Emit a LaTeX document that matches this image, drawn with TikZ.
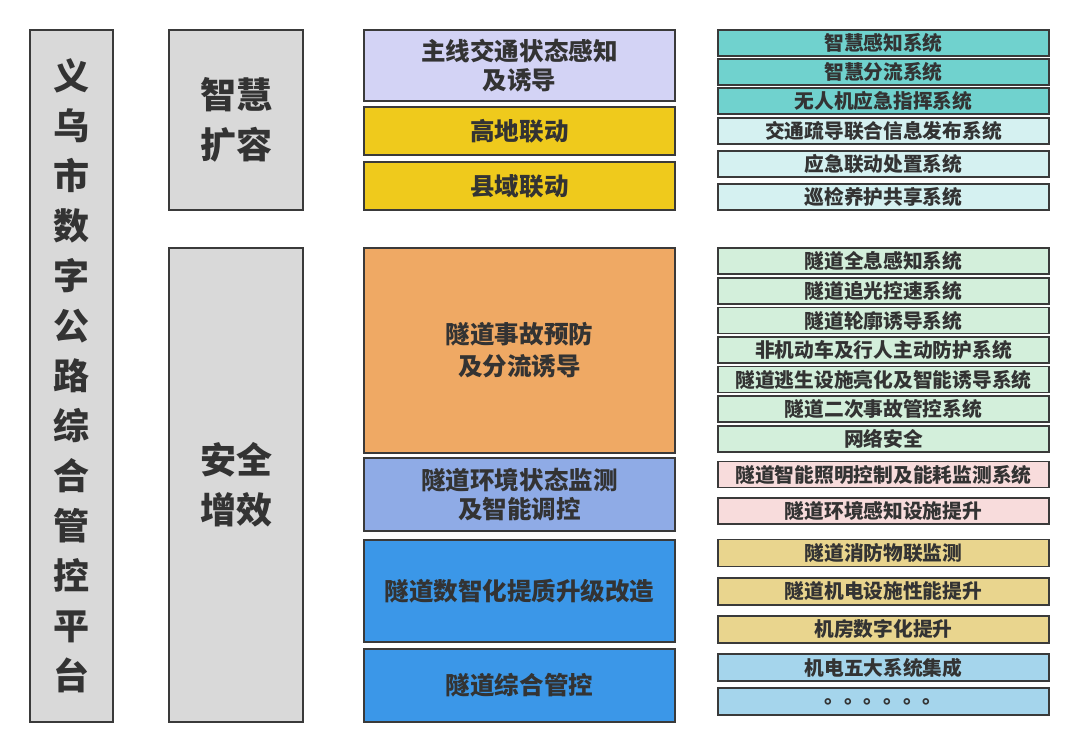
\documentclass[tikz,border=0pt]{standalone}
\usepackage{fontspec}
\setmainfont{Noto Sans CJK SC}
\usepackage{tikz}
\usetikzlibrary{positioning}
\usepackage{xcolor}
\definecolor{ywline}{HTML}{3A3A3A}
\definecolor{ywtext}{HTML}{333333}
\definecolor{ywgray}{HTML}{D9D9D9}
\definecolor{ywlav}{HTML}{D3D3F5}
\definecolor{ywgold}{HTML}{EFCA1C}
\definecolor{yworange}{HTML}{EFA964}
\definecolor{ywsteel}{HTML}{8FABE6}
\definecolor{ywblue}{HTML}{3B97E8}
\definecolor{ywteal}{HTML}{70D2CE}
\definecolor{ywcyan}{HTML}{D5F1F1}
\definecolor{ywgreen}{HTML}{D3EFDB}
\definecolor{ywpink}{HTML}{F8DCDC}
\definecolor{ywtan}{HTML}{E9D58E}
\definecolor{ywsky}{HTML}{A5D5EC}
\tikzset{
  ywbase/.style={draw=ywline, line width=1.2pt, inner sep=0pt, outer sep=0pt, text=ywtext, align=center},
  ywsize/.style 2 args={minimum width=#1*0.75pt, minimum height=#2*0.75pt},
  ywcol/.style={ywbase, fill=ywgray, font=\bfseries\fontsize{27}{37.5}\selectfont},
  ywmid/.style={ywbase, ywsize={311}{#1}, font=\bfseries\fontsize{18.4}{22}\selectfont},
  ywsys/.style={ywbase, ywsize={331}{26}, font=\bfseries\fontsize{14.8}{18}\selectfont},
}

\begin{document}
\begin{tikzpicture}[x=0.75pt, y=-0.75pt]
  \fill[white] (0,0) rectangle (1080,753);
  \useasboundingbox (0,0) rectangle (1080,753);

  \node[ywcol, ywsize={83}{692}] (platform) at (71.5,376)
    {义\\乌\\市\\数\\字\\公\\路\\综\\合\\管\\控\\平\\台};
  \node[ywcol, ywsize={134}{180}] (expand) at (236,120) {智慧\\扩容};
  \node[ywcol, ywsize={134}{474}] (safety) at (236,485) {安全\\增效};

  \node[ywmid=71, fill=ywlav] (mainline) at (519.5,65.5) {主线交通状态感知\\及诱导};
  \node[ywmid=48, fill=ywgold] (highland) at (519.5,131) {高地联动};
  \node[ywmid=48, fill=ywgold] (county) at (519.5,186) {县域联动};
  \node[ywmid=205, fill=yworange, font=\bfseries\fontsize{18.4}{24}\selectfont] (accident) at (519.5,350.5)
    {隧道事故预防\\及分流诱导};
  \node[ywmid=73, fill=ywsteel] (environ) at (519.5,494.5) {隧道环境状态监测\\及智能调控};
  \node[ywmid=102, fill=ywblue] (upgrade) at (519.5,591) {隧道数智化提质升级改造};
  \node[ywmid=73, fill=ywblue] (control) at (519.5,685.5) {隧道综合管控};

  \node[ywsys, fill=ywteal] (sense) at (883.5,43) {智慧感知系统};
  \node[ywsys, fill=ywteal] (divert) at (883.5,72) {智慧分流系统};
  \node[ywsys, fill=ywteal] (drone) at (883.5,101) {无人机应急指挥系统};
  \node[ywsys, fill=ywcyan] (publish) at (883.5,131) {交通疏导联合信息发布系统};
  \node[ywsys, fill=ywcyan] (respond) at (883.5,164) {应急联动处置系统};
  \node[ywsys, fill=ywcyan] (patrol) at (883.5,197) {巡检养护共享系统};

  \node[ywsys, fill=ywgreen] (holo) at (883.5,261) {隧道全息感知系统};
  \node[ywsys, fill=ywgreen] (chase) at (883.5,291) {隧道追光控速系统};
  \node[ywsys, fill=ywgreen] (contour) at (883.5,320.5) {隧道轮廓诱导系统};
  \node[ywsys, fill=ywgreen] (walker) at (883.5,350) {非机动车及行人主动防护系统};
  \node[ywsys, fill=ywgreen] (escape) at (883.5,379.5) {隧道逃生设施亮化及智能诱导系统};
  \node[ywsys, fill=ywgreen] (second) at (883.5,409) {隧道二次事故管控系统};
  \node[ywsys, fill=ywgreen] (network) at (883.5,439) {网络安全};

  \node[ywsys, fill=ywpink] (lighting) at (883.5,474.5) {隧道智能照明控制及能耗监测系统};
  \node[ywsys, fill=ywpink] (envsense) at (883.5,511) {隧道环境感知设施提升};

  \node[ywsys, fill=ywtan, ywsize={331}{27}] (fire) at (883.5,553) {隧道消防物联监测};
  \node[ywsys, fill=ywtan, ywsize={331}{27}] (mech) at (883.5,591.5) {隧道机电设施性能提升};
  \node[ywsys, fill=ywtan, ywsize={331}{27}] (room) at (883.5,629.5) {机房数字化提升};

  \node[ywsys, fill=ywsky, ywsize={331}{27}] (five) at (883.5,667.5) {机电五大系统集成};
  \node[ywsys, fill=ywsky, ywsize={331}{27}] (more) at (883.5,701.5) {\raisebox{-3pt}{。。。。。。}};
\end{tikzpicture}
\end{document}
